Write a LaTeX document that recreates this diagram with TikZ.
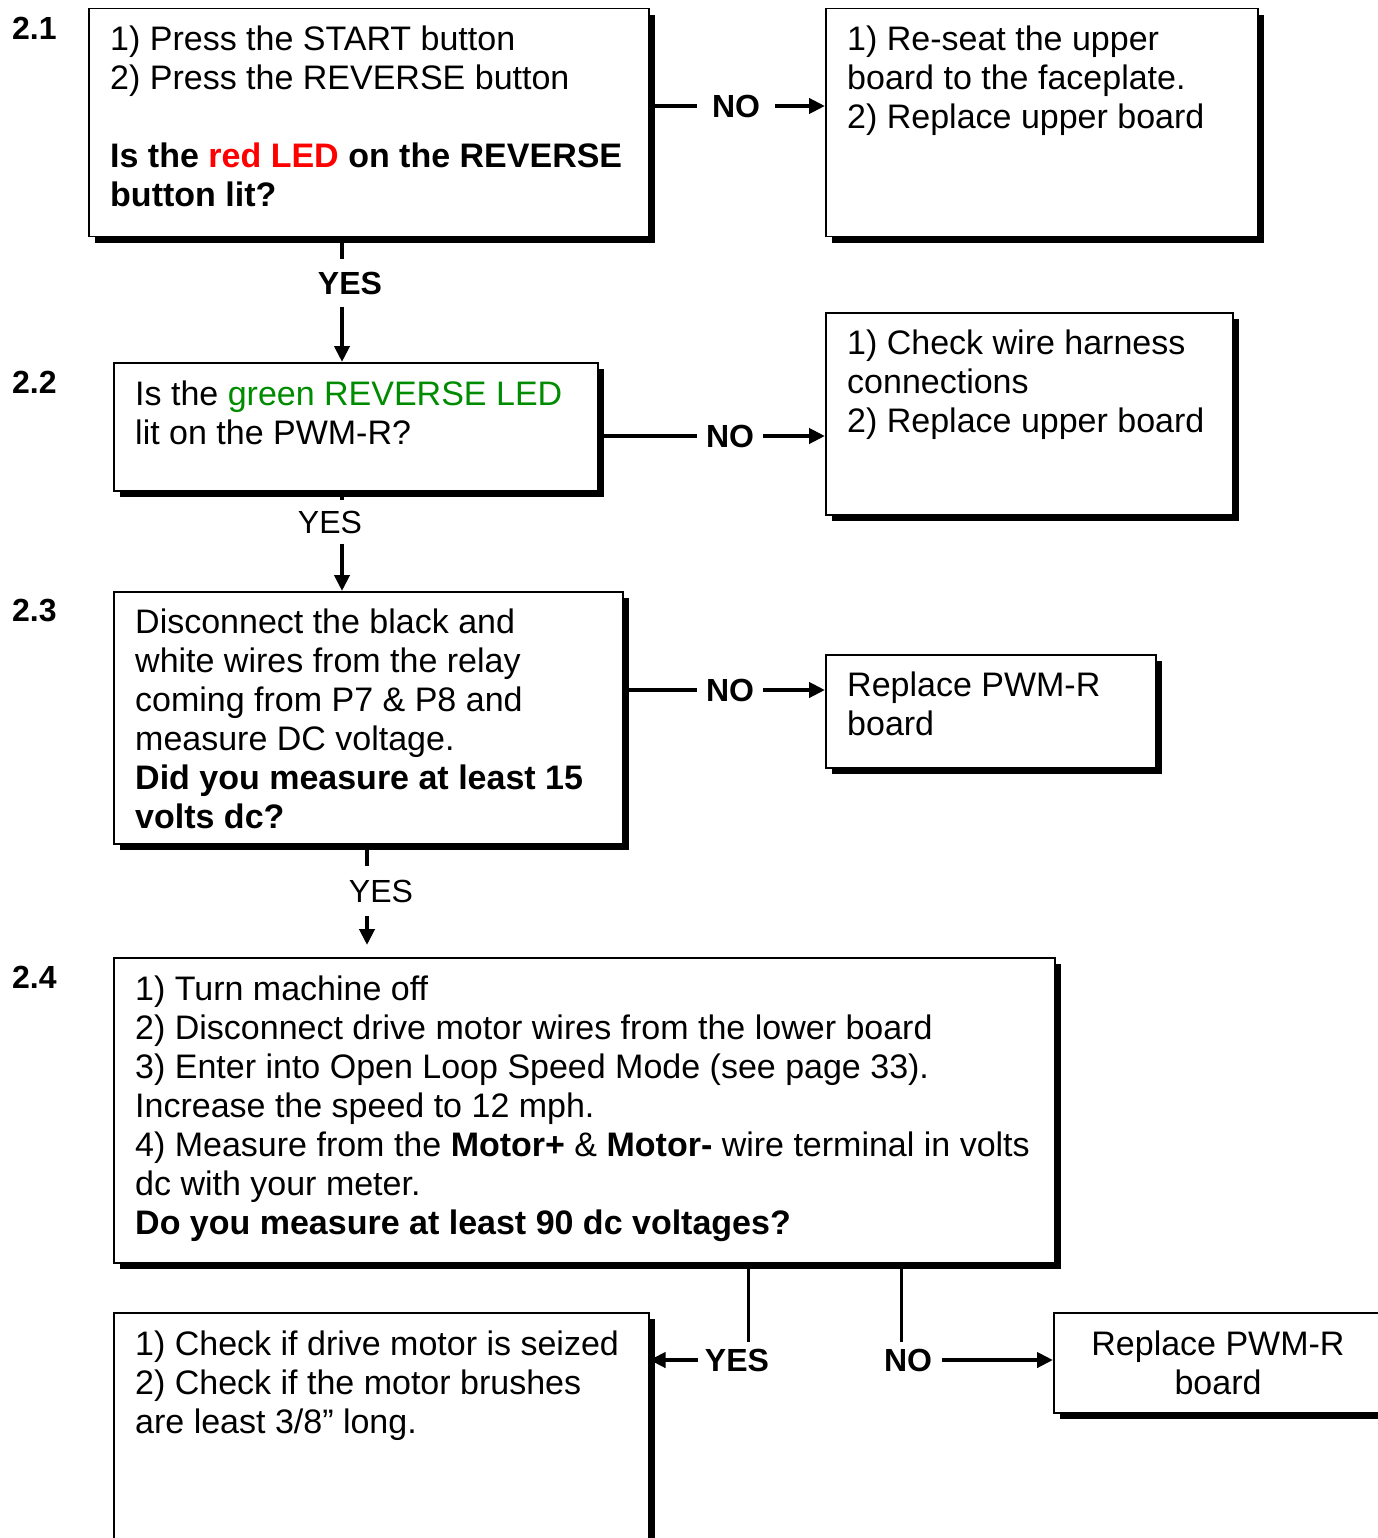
\documentclass[tikz,border=0pt]{standalone}
\usepackage{fontspec}
\setmainfont{Liberation Sans}
\usetikzlibrary{arrows.meta,shadows}
\definecolor{ledred}{RGB}{255,0,0}
\definecolor{ledgreen}{RGB}{0,140,0}
\begin{document}
\begin{tikzpicture}[x=1pt,y=-1pt,
  box/.style={draw=black, line width=1.5pt, fill=white, rectangle, anchor=north west, inner sep=0pt,
    general shadow={fill=black, shadow xshift=6pt, shadow yshift=-6pt}},
  txt/.style={inner sep=0pt, align=left, anchor=north west, font=\fontsize{34}{39}\selectfont},
  sec/.style={inner sep=0pt, anchor=west, font=\fontsize{32}{38}\selectfont\bfseries},
  lblb/.style={inner xsep=10pt, inner ysep=8pt, font=\fontsize{32}{38}\selectfont\bfseries},
  lblr/.style={inner xsep=10pt, inner ysep=10pt, font=\fontsize{32}{38}\selectfont},
  conn/.style={line width=4pt},
  thinconn/.style={line width=3pt},
  arr/.style={line width=4pt, -{Triangle[length=16pt,width=15pt]}},
]
\useasboundingbox (0,0) rectangle (1377,1538);

% section numbers
\node[sec] (s1) at (12,28) {2.1};
\node[sec] (s2) at (12,382) {2.2};
\node[sec] (s3) at (12,611) {2.3};
\node[sec] (s4) at (12,977) {2.4};

% boxes
\node[box, minimum width=560pt, minimum height=228pt] (A) at (88,8) {};
\node[box, minimum width=432pt, minimum height=228pt] (B) at (825,8) {};
\node[box, minimum width=484pt, minimum height=128pt] (C) at (113,362) {};
\node[box, minimum width=407pt, minimum height=202pt] (D) at (825,312) {};
\node[box, minimum width=509pt, minimum height=252pt] (E) at (113,591) {};
\node[box, minimum width=330pt, minimum height=113pt] (F) at (825,654) {};
\node[box, minimum width=941pt, minimum height=305pt] (G) at (113,957) {};
\node[box, minimum width=535pt, minimum height=260pt] (H) at (113,1312) {};
\node[box, minimum width=340pt, minimum height=100pt] (I) at (1053,1312) {};

% texts
\node[txt] (tA) at (110,23) {\strut 1) Press the START button\\2) Press the REVERSE button\\[39pt]
  \textbf{Is the \textcolor{ledred}{red LED} on the REVERSE}\\\textbf{button lit?}};
\node[txt] (tB) at (847,23) {\strut 1) Re-seat the upper\\board to the faceplate.\\2) Replace upper board};
\node[txt] (tC) at (135,378) {\strut Is the \textcolor{ledgreen}{green REVERSE LED}\\lit on the PWM-R?};
\node[txt] (tD) at (847,327) {\strut 1) Check wire harness\\connections\\2) Replace upper board};
\node[txt] (tE) at (135,606) {\strut Disconnect the black and\\white wires from the relay\\coming from P7 \& P8 and\\measure DC voltage.\\
  \textbf{Did you measure at least 15}\\\textbf{volts dc?}};
\node[txt] (tF) at (847,669) {\strut Replace PWM-R\\board};
\node[txt] (tG) at (135,973) {\strut 1) Turn machine off\\2) Disconnect drive motor wires from the lower board\\
  3) Enter into Open Loop Speed Mode (see page 33).\\Increase the speed to 12 mph.\\
  4) Measure from the \textbf{Motor+} \& \textbf{Motor-} wire terminal in volts\\dc with your meter.\\
  \textbf{Do you measure at least 90 dc voltages?}};
\node[txt] (tH) at (135,1328) {\strut 1) Check if drive motor is seized\\2) Check if the motor brushes\\are least 3/8” long.};
\node[txt, align=center, anchor=north] (tI) at (1218,1328) {\strut Replace PWM-R\\board};

% vertical guide coordinates
\coordinate (x1) at (342,0);
\coordinate (x2) at (367,0);
\coordinate (x3) at (748,0);
\coordinate (x4) at (901,0);

% 2.1 connectors
\node[lblb, inner xsep=15pt] (no1) at (736,106) {NO};
\draw[conn] (A.east |- no1) -- (no1.west);
\draw[arr] (no1.east) -- (B.west |- no1);
\node[lblb, inner ysep=12pt] (yes1) at (350,283) {YES};
\draw[conn] (A.south -| x1) -- (yes1.north -| x1);
\draw[arr] (yes1.south -| x1) -- (C.north -| x1);

% 2.2 connectors
\node[lblb, inner xsep=9pt] (no2) at (730,436) {NO};
\draw[conn] (C.east |- no2) -- (no2.west);
\draw[arr] (no2.east) -- (D.west |- no2);
\node[lblr, inner ysep=10pt] (yes2) at (330,522) {YES};
\draw[conn] (C.south -| x1) -- (yes2.north -| x1);
\draw[arr] (yes2.south -| x1) -- (E.north -| x1);

% 2.3 connectors
\node[lblb, inner xsep=9pt] (no3) at (730,690) {NO};
\draw[conn] (E.east |- no3) -- (no3.west);
\draw[arr] (no3.east) -- (F.west |- no3);
\node[lblr, inner ysep=13pt] (yes3) at (381,891) {YES};
\draw[conn] (E.south -| x2) -- (yes3.north -| x2);
\draw[arr, shorten >=12pt] (yes3.south -| x2) -- (G.north -| x2);

% 2.4 connectors
\node[lblb, inner xsep=7pt, inner ysep=6pt] (yes4) at (737,1360) {YES};
\draw[thinconn] (G.south -| x3) -- (yes4.north -| x3);
\draw[arr] (yes4.west) -- (H.east |- yes4);
\node[lblb, inner xsep=10pt, inner ysep=6pt] (no4) at (908,1360) {NO};
\draw[thinconn] (G.south -| x4) -- (no4.north -| x4);
\draw[arr] (no4.east) -- (I.west |- no4);
\end{tikzpicture}
\end{document}
